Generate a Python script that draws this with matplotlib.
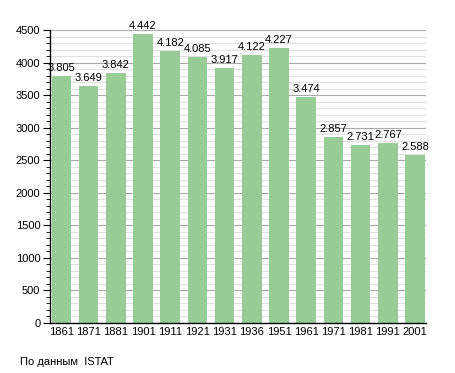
import matplotlib as mpl
import matplotlib.pyplot as plt
import numpy as np
from matplotlib.ticker import MultipleLocator

mpl.rcParams.update({
    "font.family": ["Liberation Sans", "DejaVu Sans"],
    "font.size": 8,
})

years = ["1861", "1871", "1881", "1901", "1911", "1921", "1931",
         "1936", "1951", "1961", "1971", "1981", "1991", "2001"]
population = [3805, 3649, 3842, 4442, 4182, 4085, 3917,
              4122, 4227, 3474, 2857, 2731, 2767, 2588]

fig = plt.figure(figsize=(4.55, 3.73), dpi=100)
ax = fig.add_axes([50 / 455, 1 - 323 / 373, 376 / 455, (323 - 30.3) / 373])

x = np.arange(len(years))
ax.bar(x, population, width=0.72, color="#97cc97", zorder=2)

for xi, v in zip(x, population):
    label = f"{v:,}".replace(",", ".")
    ax.text(xi, v + 45, label, ha="center", va="bottom", fontsize=8, color="#000000")

ax.set_xlim(-0.42, 13.4)
ax.set_ylim(0, 4500)
ax.yaxis.set_major_locator(MultipleLocator(500))
ax.yaxis.set_minor_locator(MultipleLocator(100))
ax.grid(axis="y", which="major", color="#aaaaaa", linewidth=0.8, zorder=0)
ax.grid(axis="y", which="minor", color="#e0e0e0", linewidth=0.7, zorder=0)
ax.set_axisbelow(True)

ax.set_xticks(x)
ax.set_xticklabels(years)
ax.tick_params(axis="x", length=0, pad=3, labelsize=8)
ax.tick_params(axis="y", which="major", length=5, width=0.8, labelsize=8, pad=2)
ax.tick_params(axis="y", which="minor", length=3, width=0.6)

for side in ("top", "right"):
    ax.spines[side].set_visible(False)
ax.spines["left"].set_linewidth(1.0)
ax.spines["bottom"].set_linewidth(1.0)

fig.text(20 / 455, 1 - 362 / 373, "По данным  ISTAT", fontsize=8, va="center", ha="left")

fig.savefig("out.png", dpi=100)
